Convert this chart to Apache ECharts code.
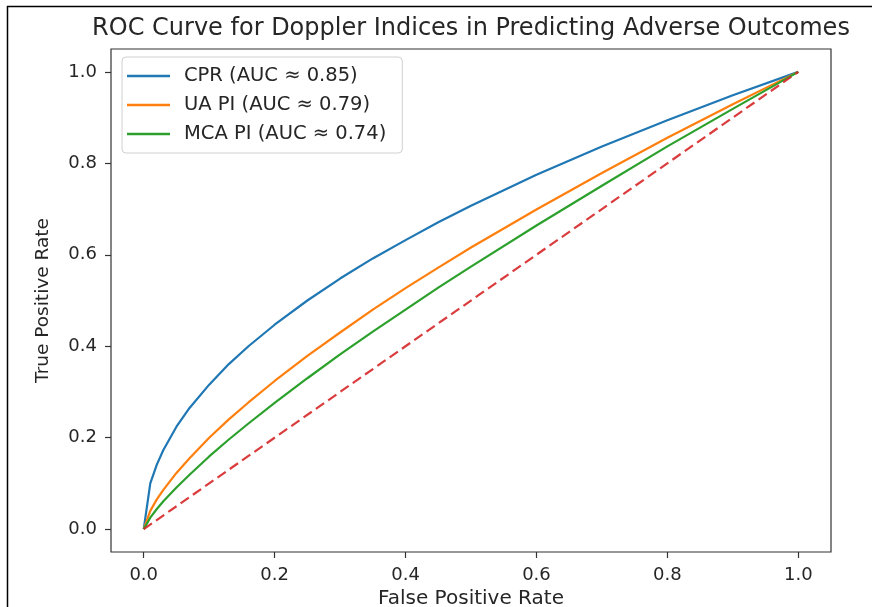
<!DOCTYPE html>
<html>
<head>
<meta charset="utf-8">
<script src="https://cdn.jsdelivr.net/npm/echarts@6/dist/echarts.min.js"></script>
<style>
  html, body { margin: 0; padding: 0; background: #fff; }
  #chart { width: 872px; height: 607px; }
</style>
</head>
<body>
<div id="chart"></div>
<script>
// values
const fpr = [0, 0.01, 0.02, 0.03, 0.05, 0.07, 0.1, 0.13, 0.16, 0.2, 0.25, 0.3, 0.35, 0.4, 0.45, 0.5, 0.6, 0.7, 0.8, 0.9, 1.0]
const cprTpr = [0, 0.100, 0.141, 0.173, 0.224, 0.265, 0.316, 0.361, 0.400, 0.447, 0.500, 0.548, 0.592, 0.632, 0.671, 0.707, 0.775, 0.837, 0.894, 0.949, 1.0]
const uaTpr = [0, 0.040, 0.065, 0.086, 0.123, 0.155, 0.200, 0.240, 0.277, 0.324, 0.379, 0.430, 0.480, 0.527, 0.572, 0.616, 0.699, 0.779, 0.856, 0.929, 1.0]
const mcaTpr = [0, 0.025, 0.044, 0.061, 0.091, 0.119, 0.159, 0.196, 0.231, 0.276, 0.330, 0.382, 0.432, 0.480, 0.528, 0.574, 0.664, 0.751, 0.837, 0.919, 1.0]
const chanceLine = [[0, 0], [1, 1]]

const seriesNames = ['CPR (AUC ≈ 0.85)', 'UA PI (AUC ≈ 0.79)', 'MCA PI (AUC ≈ 0.74)']
const seriesColors = ['#1f77b4', '#ff7f0e', '#2ca02c']
const tickValues = [0, 0.2, 0.4, 0.6, 0.8, 1.0]

const font = 'DejaVu Sans'
const textColor = '#262626'

const pairs = (ys) => fpr.map((x, i) => [x, ys[i]])

const chart = echarts.init(document.getElementById('chart'), null, { renderer: 'canvas' })

const axisCommon = {
  type: 'value',
  min: -0.05,
  max: 1.05,
  nameLocation: 'middle',
  axisLine: { show: false, onZero: false },
  splitLine: { show: false },
  axisTick: {
    show: true,
    customValues: tickValues,
    length: 6,
    lineStyle: { color: '#333', width: 1.2 },
  },
  axisLabel: {
    customValues: tickValues,
    color: textColor,
    fontFamily: font,
    fontSize: 18,
    margin: 14,
    formatter: (v) => v.toFixed(1),
  },
}

chart.setOption({
  animation: false,
  backgroundColor: '#fff',
  title: {
    text: 'ROC Curve for Doppler Indices in Predicting Adverse Outcomes',
    left: 466,
    textAlign: 'center',
    top: 12,
    textStyle: { color: textColor, fontFamily: font, fontSize: 24, fontWeight: 'normal' },
  },
  graphic: [
    { type: 'line', shape: { x1: 7, y1: 6.5, x2: 872, y2: 6.5 }, style: { stroke: '#000', lineWidth: 1.5 } },
    { type: 'line', shape: { x1: 7.5, y1: 6, x2: 7.5, y2: 607 }, style: { stroke: '#000', lineWidth: 1.5 } },
  ],
  grid: {
    left: 111,
    right: 41,
    top: 49,
    bottom: 55,
    outerBoundsMode: 'none',
    show: true,
    borderColor: '#333',
    borderWidth: 1.2,
    backgroundColor: '#fff',
  },
  legend: {
    orient: 'vertical',
    left: 122,
    top: 57,
    data: seriesNames,
    icon: 'rect',
    itemWidth: 43,
    itemHeight: 2.5,
    itemGap: 9,
    padding: [9, 16, 9, 5],
    borderColor: '#d0d0d0',
    borderWidth: 1,
    borderRadius: 4,
    backgroundColor: 'rgba(255,255,255,0.8)',
    textStyle: { color: textColor, fontFamily: font, fontSize: 19.5, padding: [0, 0, 0, 9] },
  },
  xAxis: Object.assign({}, axisCommon, {
    name: 'False Positive Rate',
    nameGap: 36,
    nameTextStyle: { color: textColor, fontFamily: font, fontSize: 20 },
  }),
  yAxis: Object.assign({}, axisCommon, {
    name: 'True Positive Rate',
    nameGap: 58,
    nameTextStyle: { color: textColor, fontFamily: font, fontSize: 18.5 },
  }),
  series: [
    ...[cprTpr, uaTpr, mcaTpr].map((ys, i) => ({
      name: seriesNames[i],
      type: 'line',
      data: pairs(ys),
      showSymbol: false,
      symbol: 'none',
      color: seriesColors[i],
      lineStyle: { color: seriesColors[i], width: 2.2 },
    })),
    {
      name: 'chance',
      type: 'line',
      data: chanceLine,
      showSymbol: false,
      symbol: 'none',
      color: '#d62728',
      lineStyle: { color: '#d62728', width: 2.2, type: [10, 5], opacity: 0.9 },
    },
  ],
})
</script>
</body>
</html>
